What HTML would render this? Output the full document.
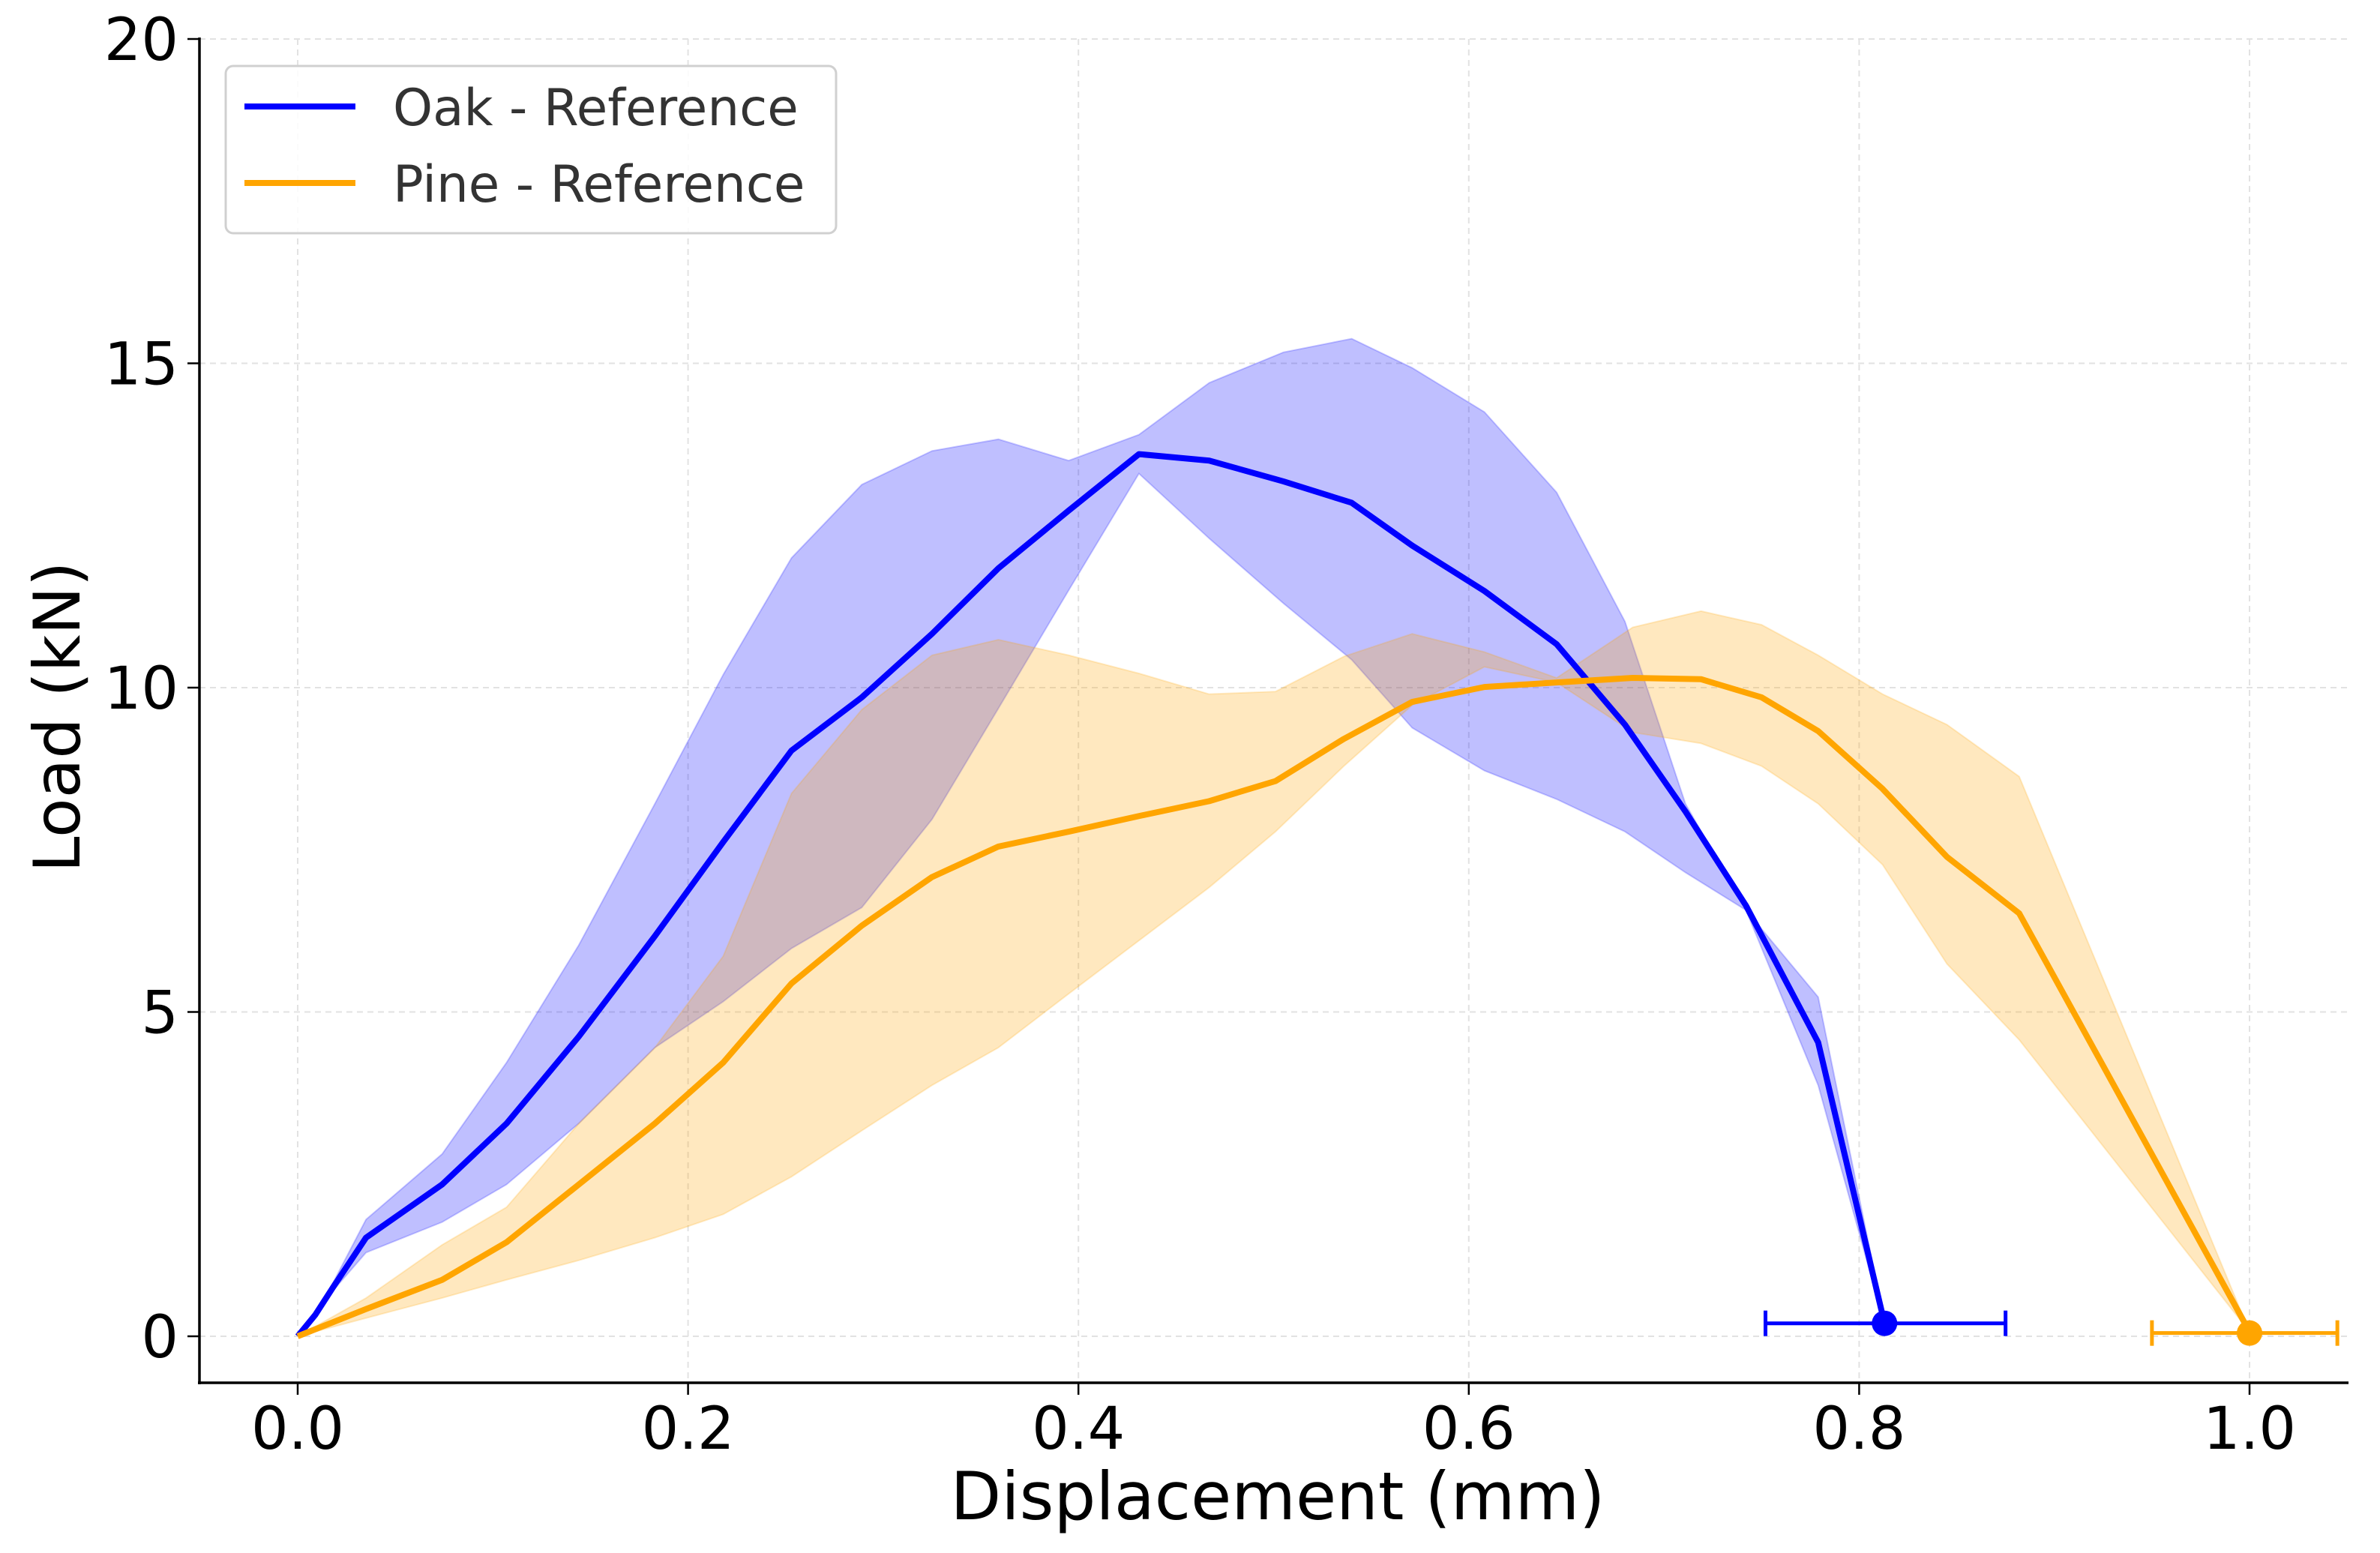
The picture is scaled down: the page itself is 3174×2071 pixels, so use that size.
<!DOCTYPE html>
<html><head><meta charset="utf-8"><style>
html,body{margin:0;padding:0;background:#fff;}
svg{display:block;font-family:"DejaVu Sans","Liberation Sans",sans-serif;}
</style></head><body>
<svg id="chart" width="3174" height="2071" viewBox="0 0 3174 2071" xmlns="http://www.w3.org/2000/svg">
<g id="grid"></g>
<g id="bands"></g>
<g id="lines"></g>
<g id="axes"></g>
<text x="1704" y="2026" font-size="88" text-anchor="middle" fill="#000">Displacement (mm)</text>
<text x="0" y="0" font-size="86" text-anchor="middle" fill="#000" transform="translate(106,956) rotate(-90)">Load (kN)</text>
<g>
<rect x="301" y="88" width="814" height="223" rx="10" fill="#fff" fill-opacity="0.85" stroke="#d0d0d0" stroke-width="3"/>
<g>
<line x1="326" y1="142" x2="474" y2="142" stroke="#0000ff" stroke-width="8"/>
<text x="524" y="167" font-size="67.5" fill="#333">Oak - Reference</text>
</g>
<g>
<line x1="326" y1="244" x2="474" y2="244" stroke="#ffa500" stroke-width="8"/>
<text x="524" y="269" font-size="67.5" fill="#333">Pine - Reference</text>
</g>
</g>
</svg>
<script>
const oakX = [0,0.009,0.018,0.035,0.074,0.107,0.144,0.183,0.218,0.253,0.289,0.325,0.359,0.395,0.431,0.467,0.505,0.54,0.571,0.608,0.645,0.68,0.711,0.742,0.779,0.813];
const oakMean = [0,0.33,0.75,1.52,2.34,3.28,4.62,6.17,7.62,9.03,9.85,10.83,11.84,12.73,13.6,13.5,13.18,12.85,12.19,11.49,10.67,9.43,8.09,6.64,4.53,0.2];
const oakUpper = [0,0.35,0.82,1.8,2.81,4.22,6.03,8.21,10.2,12.0,13.13,13.65,13.83,13.5,13.9,14.7,15.17,15.38,14.93,14.25,13.01,11.02,8.21,6.57,5.23,0.23];
const oakLower = [0,0.3,0.7,1.29,1.76,2.34,3.28,4.45,5.16,5.98,6.61,7.97,9.68,11.5,13.3,12.3,11.3,10.43,9.38,8.72,8.28,7.78,7.15,6.57,3.87,0.18];
const pineX = [0,0.035,0.074,0.107,0.144,0.183,0.218,0.253,0.289,0.325,0.359,0.395,0.431,0.467,0.501,0.536,0.571,0.608,0.645,0.684,0.719,0.75,0.779,0.812,0.845,0.882,1.0];
const pineMean = [0,0.42,0.87,1.45,2.34,3.28,4.22,5.44,6.33,7.08,7.55,7.78,8.02,8.25,8.56,9.21,9.78,10.01,10.08,10.15,10.13,9.85,9.33,8.44,7.39,6.52,0.07];
const pineUpper = [0,0.59,1.41,1.99,3.28,4.45,5.86,8.37,9.66,10.5,10.74,10.5,10.22,9.9,9.94,10.48,10.83,10.55,10.15,10.93,11.18,10.97,10.5,9.9,9.43,8.63,0.07];
const pineLower = [0,0.28,0.59,0.87,1.17,1.52,1.88,2.46,3.17,3.87,4.45,5.28,6.1,6.92,7.78,8.79,9.73,10.32,10.08,9.31,9.14,8.79,8.21,7.27,5.74,4.57,0.07];
const endX = [0.813, 1.0];
const endY = [0.2, 0.05];
const errLo = [0.752, 0.95];
const errHi = [0.875, 1.045];
const xTicks = [0,0.2,0.4,0.6,0.8,1.0];
const xTickLabels = ["0.0","0.2","0.4","0.6","0.8","1.0"];
const yTicks = [0,5,10,15,20];
const yTickLabels = ["0","5","10","15","20"];

const NS = "http://www.w3.org/2000/svg";
const X0=397, X1=3000, Y0=1782, Y20=52;
const LEFT=266, RIGHT=3132, BOTTOM=1844, TOP=52;
function sx(v){return X0+(X1-X0)*v;}
function sy(v){return Y0+(Y20-Y0)*v/20;}
function mk(tag, attrs, parent){const e=document.createElementNS(NS,tag);for(const k in attrs)e.setAttribute(k,attrs[k]);parent.appendChild(e);return e;}
const grid=document.getElementById('grid'), bands=document.getElementById('bands'), lines=document.getElementById('lines'), axes=document.getElementById('axes');

xTicks.forEach((t,i)=>{
  const g=mk('line',{x1:sx(t),x2:sx(t),y1:TOP,y2:BOTTOM,stroke:'#e2e2e2','stroke-width':2,'stroke-dasharray':'8,6'},grid);
  
  
  const tk=mk('line',{x1:sx(t),x2:sx(t),y1:BOTTOM,y2:BOTTOM+16,stroke:'#000','stroke-width':2.5},axes);
  
  
  const tl=mk('text',{x:sx(t),y:1932,'font-size':78,'text-anchor':'middle',fill:'#000'},axes);
  tl.textContent=xTickLabels[i];
  
  
});
yTicks.forEach((t,i)=>{
  const g=mk('line',{x1:LEFT,x2:RIGHT,y1:sy(t),y2:sy(t),stroke:'#e2e2e2','stroke-width':2,'stroke-dasharray':'8,6'},grid);
  
  
  const tk=mk('line',{x1:LEFT-16,x2:LEFT,y1:sy(t),y2:sy(t),stroke:'#000','stroke-width':2.5},axes);
  
  
  const tl=mk('text',{x:LEFT-28,y:sy(t)+28,'font-size':78,'text-anchor':'end',fill:'#000'},axes);
  tl.textContent=yTickLabels[i];
  
  
});
const sp1=mk('line',{x1:LEFT,x2:LEFT,y1:TOP-2,y2:BOTTOM+2,stroke:'#000','stroke-width':3.5},axes);


const sp2=mk('line',{x1:LEFT-2,x2:RIGHT,y1:BOTTOM,y2:BOTTOM,stroke:'#000','stroke-width':3.5},axes);



function bandPath(xs,up,lo){let d='';xs.forEach((x,i)=>{d+=(i?'L':'M')+sx(x)+','+sy(up[i]);});for(let i=xs.length-1;i>=0;i--)d+='L'+sx(xs[i])+','+sy(lo[i]);return d+'Z';}
function linePts(xs,ys){return xs.map((x,i)=>sx(x)+','+sy(ys[i])).join(' ');}

const b1=mk('path',{d:bandPath(oakX,oakUpper,oakLower),fill:'#0000ff','fill-opacity':0.25,stroke:'#0000ff','stroke-opacity':0.2,'stroke-width':2},bands);


const b2=mk('path',{d:bandPath(pineX,pineUpper,pineLower),fill:'#ffa500','fill-opacity':0.25,stroke:'#ffa500','stroke-opacity':0.2,'stroke-width':2},bands);



const l1=mk('polyline',{points:linePts(oakX,oakMean),fill:'none',stroke:'#0000ff','stroke-width':8,'stroke-linejoin':'round'},lines);


const l2=mk('polyline',{points:linePts(pineX,pineMean),fill:'none',stroke:'#ffa500','stroke-width':8,'stroke-linejoin':'round'},lines);



const cols=['#0000ff','#ffa500'];
const names=['oak','pine'];
endX.forEach((x,i)=>{
  const y=sy(endY[i]);
  const e=mk('line',{x1:sx(errLo[i]),x2:sx(errHi[i]),y1:y,y2:y,stroke:cols[i],'stroke-width':5},lines);
  
  
  [errLo[i],errHi[i]].forEach(v=>{
    const c=mk('line',{x1:sx(v),x2:sx(v),y1:y-17,y2:y+17,stroke:cols[i],'stroke-width':5},lines);
    
    
  });
  const m=mk('circle',{cx:sx(x),cy:y,r:17,fill:cols[i]},lines);
  
  
});
</script>
</body></html>
